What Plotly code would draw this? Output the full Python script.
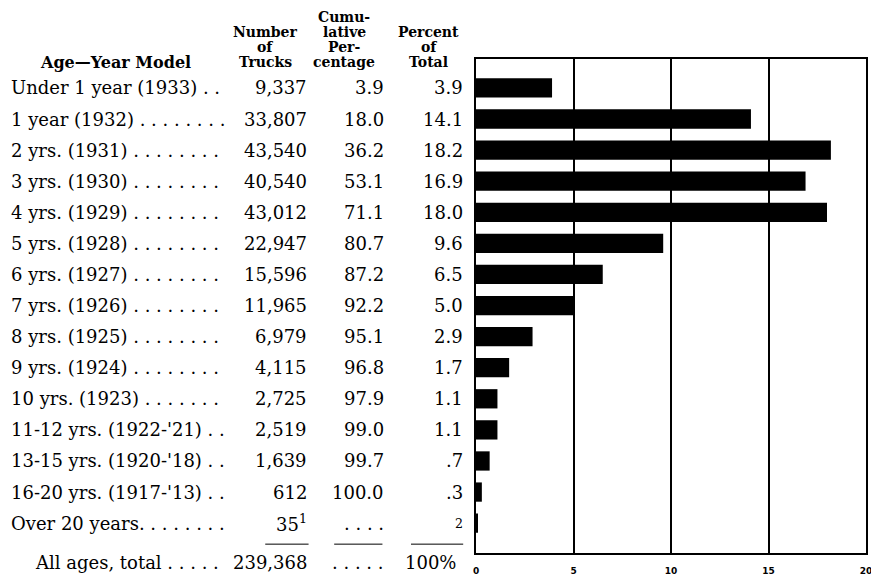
import plotly.graph_objects as go

# --- data ---
ages = ["Under 1 year (1933)", "1 year (1932)", "2 yrs. (1931)", "3 yrs. (1930)",
        "4 yrs. (1929)", "5 yrs. (1928)", "6 yrs. (1927)", "7 yrs. (1926)",
        "8 yrs. (1925)", "9 yrs. (1924)", "10 yrs. (1923)", "11-12 yrs. (1922-'21)",
        "13-15 yrs. (1920-'18)", "16-20 yrs. (1917-'13)", "Over 20 years"]
leaders = [" . .", " . . . . . . . .", " . . . . . . . .", " . . . . . . . .",
           " . . . . . . . .", " . . . . . . . .", " . . . . . . . .", " . . . . . . . .",
           " . . . . . . . .", " . . . . . . . .", " . . . . . . .", " . .",
           " . .", " . .", ". . . . . . . ."]
trucks = ["9,337", "33,807", "43,540", "40,540", "43,012", "22,947", "15,596", "11,965",
          "6,979", "4,115", "2,725", "2,519", "1,639", "612", "35<sup>1</sup>"]
cumulative = ["3.9", "18.0", "36.2", "53.1", "71.1", "80.7", "87.2", "92.2",
              "95.1", "96.8", "97.9", "99.0", "99.7", "100.0", ". . . ."]
percent_txt = ["3.9", "14.1", "18.2", "16.9", "18.0", "9.6", "6.5", "5.0",
               "2.9", "1.7", "1.1", "1.1", ".7", ".3", "<sup>2</sup>"]
percent = [3.9, 14.1, 18.2, 16.9, 18.0, 9.6, 6.5, 5.0, 2.9, 1.7, 1.1, 1.1, 0.7, 0.3, 0.1]
total_label = "All ages, total . . . . ."
total_trucks = "239,368"
total_cum = ". . . . ."
total_pct = "100%"
x_ticks = [0, 5, 10, 15, 20]

# page body has an 8px margin, so the figure starts 8px in
OFF = 8
W, H = 879 - OFF, 583 - OFF
X0, X1, Y0, Y1 = 476, 872, 59, 561      # plot box, page pixels
L, R, T, B = X0 - OFF, W - (X1 - OFF), Y0 - OFF, H - (Y1 - OFF)


def px(x):
    return (x - X0) / (X1 - X0)


def py(y):
    return (Y1 - y) / (Y1 - Y0)


body = dict(family="DejaVu Serif", size=18, color="black")
head = dict(family="DejaVu Serif", size=14, color="black")

rows = list(range(len(ages)))

fig = go.Figure()
fig.add_trace(go.Bar(x=percent, y=rows, orientation="h", marker_color="black",
                     marker_line_width=0, width=0.62))

ann = []
for i in rows:
    ann.append(dict(x=px(2), y=i, xref="paper", yref="y", text=ages[i] + leaders[i],
                    xanchor="left", showarrow=False, font=body))
    ann.append(dict(x=px(306), y=i, xref="paper", yref="y", text=trucks[i],
                    xanchor="right", showarrow=False, font=body))
    ann.append(dict(x=px(385), y=i, xref="paper", yref="y", text=cumulative[i],
                    xanchor="right", showarrow=False, font=body))
    ann.append(dict(x=px(465), y=i, xref="paper", yref="y", text=percent_txt[i],
                    xanchor="right", showarrow=False, font=body))

ty = py(571)
for x, t, anchor in [(26, total_label, "left"), (306, total_trucks, "right"),
                     (385, total_cum, "right"), (458, total_pct, "right")]:
    ann.append(dict(x=px(x), y=ty, xref="paper", yref="paper", text=t, xanchor=anchor,
                    yanchor="middle", showarrow=False, font=body))

headers = [
    (262, 32, "Number"), (262, 47, "of"), (262, 62, "Trucks"),
    (342, 16, "Cumu-"), (342, 32, "lative"), (342, 47, "Per-"), (342, 62, "centage"),
    (428, 32, "Percent"), (428, 47, "of"), (428, 62, "Total"),
]
for x, y, t in headers:
    ann.append(dict(x=px(x), y=py(y), xref="paper", yref="paper", text="<b>%s</b>" % t,
                    xanchor="center", yanchor="middle", showarrow=False, font=head))
ann.append(dict(x=px(110), y=py(63), xref="paper", yref="paper",
                text="<b>Age—Year Model</b>", xanchor="center", yanchor="middle",
                showarrow=False, font=dict(head, size=16)))

shapes = []
for x0, x1 in [(262, 306), (332, 381), (410, 463)]:
    shapes.append(dict(type="line", xref="paper", yref="paper", x0=px(x0), x1=px(x1),
                       y0=py(552), y1=py(552), line=dict(color="black", width=1)))

fig.update_layout(
    width=W, height=H,
    margin=dict(l=L, r=R, t=T, b=B),
    paper_bgcolor="white", plot_bgcolor="white",
    showlegend=False,
    annotations=ann, shapes=shapes,
)
fig.update_xaxes(range=[0, 20], tickvals=x_ticks, showgrid=True, gridcolor="black",
                 gridwidth=1.5, zeroline=False, showline=True, linecolor="black",
                 linewidth=2, mirror=True, ticks="", ticklabelstandoff=8,
                 tickfont=dict(family="DejaVu Sans", size=9, color="black", weight="bold"))
fig.update_yaxes(range=[14.96, -0.93], showticklabels=False, showgrid=False,
                 zeroline=False, showline=True, linecolor="black", linewidth=2,
                 mirror=True, ticks="")

fig.write_html("out.html")
